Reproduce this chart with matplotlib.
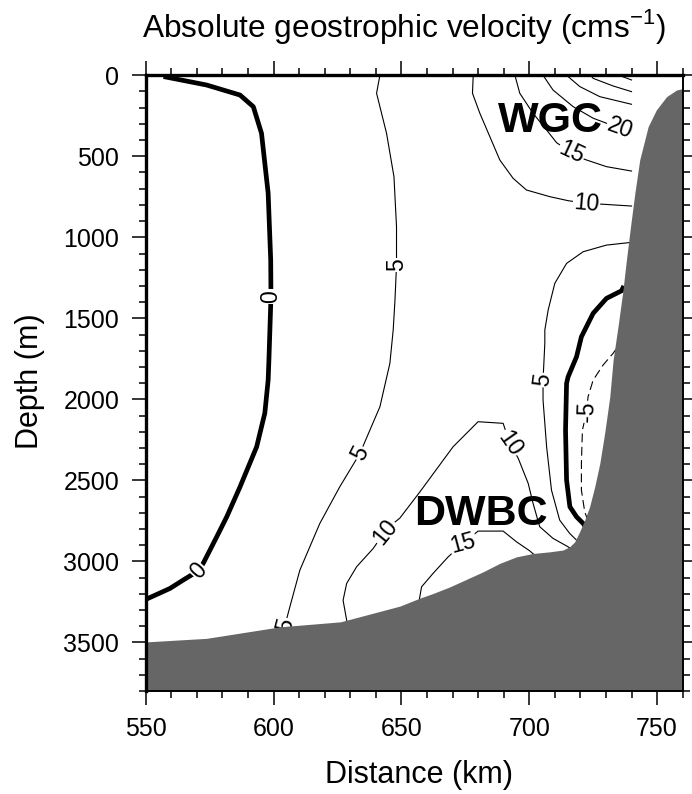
import matplotlib
matplotlib.use("Agg")
import matplotlib.pyplot as plt
from matplotlib.ticker import MultipleLocator

plt.rcParams["font.family"] = ["Liberation Sans", "DejaVu Sans"]

# seafloor profile (distance km, depth m)
bottom_x = [550.0, 573.8, 602.5, 626.2, 649.4, 657.2, 662.4, 669.0, 682.0, 688.5,
            695.0, 701.5, 708.0, 713.2, 715.8, 717.8, 719.7, 721.7, 723.6, 725.6,
            727.6, 729.5, 731.5, 732.8, 734.7, 736.5, 738.0, 739.6, 741.3, 743.2,
            746.5, 749.7, 753.7, 757.6, 759.3, 760.0]
bottom_z = [3497, 3475, 3404, 3373, 3276, 3227, 3198, 3157, 3064, 3012,
            2972, 2951, 2941, 2930, 2910, 2879, 2817, 2745, 2663, 2540,
            2395, 2208, 1984, 1757, 1552, 1346, 1140, 935, 728, 523,
            317, 214, 132, 91, 85, 80]

# velocity contours, vertices (distance km, depth m)
zero_west = [(557.0, 8), (573.8, 60), (586.9, 122), (592.1, 194), (595.3, 358),
             (597.9, 728), (598.9, 1140), (599.0, 1367), (598.2, 1757), (597.9, 1881),
             (596.6, 2085), (593.4, 2293), (586.9, 2540), (581.7, 2725), (577.8, 2848),
             (572.5, 3012), (570.6, 3058), (564.7, 3115), (559.5, 3167), (550.0, 3235)]
zero_east = [(737.0, 1300), (736.1, 1330), (730.2, 1377), (725.0, 1469), (720.4, 1614),
             (718.5, 1737), (715.2, 1861), (714.6, 1901), (714.2, 2190), (714.6, 2498),
             (715.9, 2663), (718.5, 2725), (721.1, 2766), (722.5, 2800)]
five_west = [(641.6, 0), (640.3, 111), (644.2, 358), (647.1, 626), (648.1, 935),
             (648.1, 1171), (647.5, 1387), (646.8, 1572), (645.5, 1778), (641.6, 2046),
             (633.8, 2333), (625.9, 2540), (618.1, 2766), (610.3, 3054), (606.4, 3280),
             (604.5, 3393), (603.5, 3460)]
five_east = [(739.5, 1032), (730.2, 1048), (721.1, 1089), (714.6, 1161), (710.0, 1284),
             (707.4, 1449), (706.1, 1572), (706.1, 1654), (705.4, 1881), (705.4, 2004),
             (706.8, 2293), (708.7, 2560), (711.9, 2745), (715.8, 2827), (718.5, 2869)]
minus_five = [(734.0, 1690), (732.8, 1716), (728.9, 1788), (725.0, 1881), (723.0, 1984),
              (722.4, 2077), (720.8, 2190), (720.4, 2395), (720.4, 2560), (721.7, 2694),
              (723.0, 2750)]
wgc_10 = [(678.1, 0), (677.8, 111), (680.7, 235), (684.6, 379), (688.5, 523),
          (693.7, 636), (698.9, 708), (708.0, 749), (715.2, 774), (722.4, 790),
          (728.9, 796), (740.0, 807)]
wgc_15 = [(694.4, 0), (696.3, 111), (701.5, 235), (706.8, 338), (710.7, 416),
          (716.5, 478), (721.7, 519), (730.2, 564), (740.0, 591)]
wgc_20 = [(705.4, 0), (709.3, 91), (717.2, 194), (725.0, 265), (735.4, 327), (740.0, 345)]
wgc_25 = [(714.6, 0), (719.8, 70), (727.6, 132), (740.0, 179)]
wgc_30 = [(724.0, 0), (725.0, 19), (732.8, 66), (740.0, 101)]
wgc_35 = [(735.0, 0), (740.0, 29)]
dwbc_10 = [(628.8, 3380), (627.2, 3240), (628.6, 3136), (632.5, 3033), (639.0, 2920),
           (643.5, 2817), (646.8, 2766), (649.4, 2733), (657.2, 2572), (670.2, 2293),
           (680.0, 2138), (689.8, 2148), (692.4, 2272), (695.7, 2364), (699.6, 2519),
           (701.5, 2642), (704.1, 2786), (709.3, 2858), (715.2, 2910), (717.0, 2930)]
dwbc_15 = [(657.0, 3240), (657.2, 3219), (657.9, 3157), (662.4, 3074), (668.3, 2972),
           (674.1, 2889), (680.0, 2813), (689.8, 2813), (695.0, 2879), (700.2, 2935),
           (702.0, 2960)]

thick = [zero_west, zero_east]
thin = [five_west, five_east, wgc_10, wgc_15, wgc_20, wgc_25, wgc_30, wgc_35,
        dwbc_10, dwbc_15]
dashed = [minus_five]

# contour labels: text, distance, depth, angle
label_text = ["0", "0", "5", "5", "5", "10", "15", "20", "5", "-5", "10", "10", "15"]
label_x = [599.0, 570.6, 648.1, 633.8, 604.5, 722.4, 716.5, 735.4, 705.4, 722.4,
           643.5, 692.4, 674.1]
label_z = [1367, 3058, 1171, 2333, 3393, 790, 478, 327, 1881, 2077,
           2817, 2272, 2889]
label_rot = [90, 48, 90, 63, 75, -5, -25, -20, 82, 88, 51, -55, 15]

fig = plt.figure(figsize=(6.92, 7.94), dpi=100)
ax = fig.add_axes([0.2105, 0.1297, 0.776, 0.7755])

for pts in thick:
    xs, zs = zip(*pts)
    ax.plot(xs, zs, color="black", lw=3.4, solid_capstyle="butt", zorder=2)
for pts in thin:
    xs, zs = zip(*pts)
    ax.plot(xs, zs, color="black", lw=0.8, zorder=2)
for pts in dashed:
    xs, zs = zip(*pts)
    ax.plot(xs, zs, color="black", lw=0.8, linestyle=(0, (8, 4)), zorder=2)

for t, x, z, r in zip(label_text, label_x, label_z, label_rot):
    ax.text(x, z, t, fontsize=16.5, rotation=r, rotation_mode="anchor",
            ha="center", va="center", zorder=3,
            bbox=dict(fc="white", ec="none", pad=0.6))

ax.fill_between(bottom_x, bottom_z, 3800, color="#666666", lw=0, zorder=4)

ax.text(708.4, 280, "WGC", fontsize=31, fontweight="bold", ha="center", va="center", zorder=5)
ax.text(681.0, 2708, "DWBC", fontsize=31, fontweight="bold", ha="center", va="center", zorder=5)

ax.set_xlim(550, 760)
ax.set_ylim(3800, 0)
ax.xaxis.set_major_locator(MultipleLocator(50))
ax.xaxis.set_minor_locator(MultipleLocator(10))
ax.yaxis.set_major_locator(MultipleLocator(500))
ax.yaxis.set_minor_locator(MultipleLocator(100))
ax.tick_params(which="both", direction="out", top=True, right=True, width=1.1,
               labelsize=18)
ax.tick_params(which="major", length=10, pad=9)
ax.tick_params(which="minor", length=5)
for side in ["left", "top"]:
    ax.spines[side].set_linewidth(2.4)
for side in ["right", "bottom"]:
    ax.spines[side].set_linewidth(1.4)
for s in ax.spines.values():
    s.set_zorder(6)

fig.text(0.584, 0.953, "Absolute geostrophic velocity (cms$^{\\mathregular{-1}}$)",
         fontsize=22.8, ha="center", va="baseline")
fig.text(0.6055, 0.0139, "Distance (km)", fontsize=22, ha="center", va="baseline")
fig.text(0.043, 0.52, "Depth (m)", fontsize=22, rotation=90, ha="center", va="center")

fig.savefig("out.png", dpi=100)
